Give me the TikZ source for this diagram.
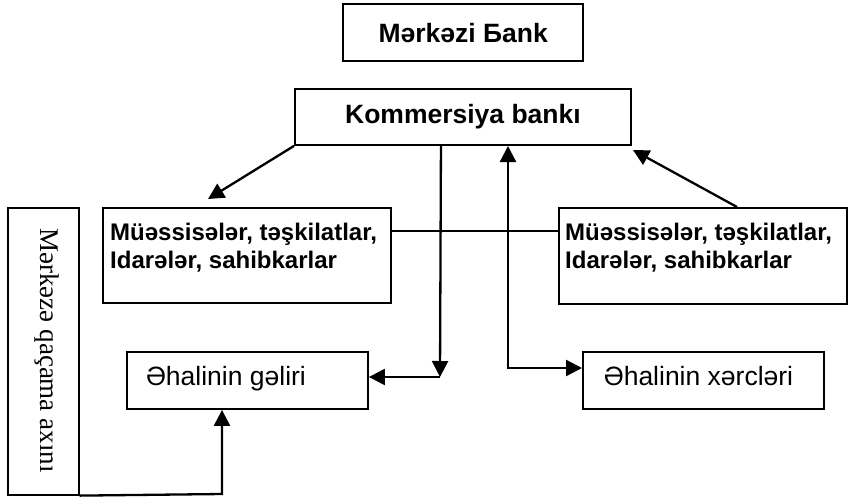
\documentclass[tikz,border=0pt]{standalone}
\usepackage{fontspec}
\setmainfont{Liberation Sans}
\newfontfamily\myserif{Liberation Serif}
\usetikzlibrary{arrows.meta,calc}
\begin{document}
\begin{tikzpicture}[x=1pt,y=-1pt,
  box/.style={draw, line width=1.9pt, inner sep=0pt, anchor=north west},
  conn/.style={line width=2.3pt},
  tip/.tip={Triangle[length=16pt,width=16pt]},
  arr/.style={conn, -tip},
  bigbold/.style={font=\bfseries\fontsize{26.5}{30}\selectfont},
  midbold/.style={font=\bfseries\fontsize{24}{28}\selectfont},
  plain/.style={font=\fontsize{26.5}{30}\selectfont}]
\useasboundingbox (0,0) rectangle (850,499);
% boxes
\node[box, line width=2.4pt, minimum width=240pt, minimum height=57pt, bigbold] (mb) at (342,3) {Mərkəzi Бank};
\node[box, minimum width=336pt, minimum height=56pt, bigbold] (kb) at (294,88) {Kommersiya bankı};
\node[box, minimum width=288pt, minimum height=95pt] (lm) at (102,207) {};
\node[box, minimum width=288pt, minimum height=96pt] (rm) at (558,207) {};
\node[box, minimum width=241pt, minimum height=57pt] (gel) at (126,351) {};
\node[box, minimum width=241pt, minimum height=57pt] (xer) at (582,351) {};
\node[box, line width=1.6pt, minimum width=71pt, minimum height=287pt] (lv) at (7,207) {};
% texts
\node[anchor=north west, inner sep=0pt, align=left, midbold] (lmt) at ($(lm.north west)+(8,16)$) {Müəssisələr, təşkilatlar,\\Idarələr, sahibkarlar};
\node[anchor=north west, inner sep=0pt, align=left, midbold] (rmt) at ($(rm.north west)+(7,16)$) {Müəssisələr, təşkilatlar,\\Idarələr, sahibkarlar};
\node[anchor=base, inner sep=0pt, plain] (gelt) at (226,385) {Əhalinin gəliri};
\node[anchor=base, inner sep=0pt, plain] (xert) at (698.5,385) {Əhalinin xərcləri};
\node[anchor=base, inner sep=0pt, rotate=-90, font=\myserif\fontsize{27}{30}\selectfont] (lvt) at (40,350.5) {Mərkəzə qaçama axını};
% connectors
\coordinate (t1) at (208,199);
\draw[arr] (kb.south west) -- (t1);
\coordinate (s2) at ($(rm.north west)+(179,0)$);
\coordinate (t2) at (633,150);
\draw[arr] (s2) -- (t2);
\draw[line width=1.8pt] ($(lm.north east)+(0,24)$) -- ($(rm.north west)+(0,24)$);
\coordinate (k1) at ($(kb.south)+(-22,0)$);
\coordinate (c1) at (440,377);
\draw[arr] (k1) -- (c1);
\draw[arr] (c1) -- (c1 -| gel.east);
\coordinate (u1) at (508,146);
\coordinate (c2) at (508,368);
\draw[conn, tip-tip] (u1) -- (c2) -- (c2 -| xer.west);
\coordinate (c3) at (222,494);
\draw[arr] (lv.south east) -- (c3) -- (c3 |- gel.south);
\end{tikzpicture}
\end{document}
